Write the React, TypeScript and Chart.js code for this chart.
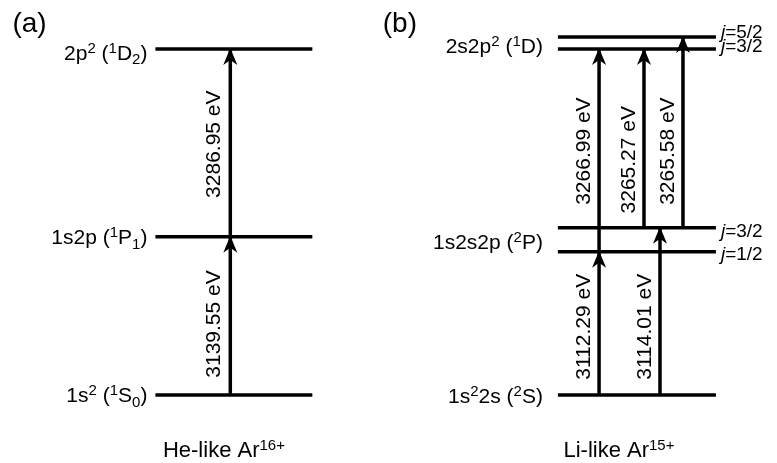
import React, { useEffect, useRef } from 'react';
import { Chart, registerables } from 'chart.js';

Chart.register(...registerables);

type Seg = [string, '' | 'sup' | 'sub' | 'i'];

// Schematic level heights: ground state = 0, doubly excited 2l2l' level = 100
const heLevels = [0, 45.7, 100];
const heLevelLabels: Seg[][] = [
  [['1s', ''], ['2', 'sup'], [' (', ''], ['1', 'sup'], ['S', ''], ['0', 'sub'], [')', '']],
  [['1s2p (', ''], ['1', 'sup'], ['P', ''], ['1', 'sub'], [')', '']],
  [['2p', ''], ['2', 'sup'], [' (', ''], ['1', 'sup'], ['D', ''], ['2', 'sub'], [')', '']],
];

const liLevels = [0, 41.4, 48.3, 100, 103.5];
const liJLabels = ['', '1/2', '3/2', '3/2', '5/2'];
// Term labels sit between the fine-structure pairs they describe
const liTermLevels = [0, 44.6, 101.3];
const liTermLabels: Seg[][] = [
  [['1s', ''], ['2', 'sup'], ['2s (', ''], ['2', 'sup'], ['S)', '']],
  [['1s2s2p (', ''], ['2', 'sup'], ['P)', '']],
  [['2s2p', ''], ['2', 'sup'], [' (', ''], ['1', 'sup'], ['D)', '']],
];

// Horizontal extent of each ladder and the column of each transition
const heSpan = [1.0, 2.01];
const liSpan = [3.59, 4.607];

const heArrowCol = [1.482, 1.482];
const heArrowFrom = [0, 45.7];
const heArrowTo = [45.7, 100];
const heArrowEnergy = ['3139.55', '3286.95'];
const heArrowLabelAt = [20.5, 72.5];

const liArrowCol = [3.855, 4.247, 3.855, 4.144, 4.395];
const liArrowFrom = [0, 0, 41.4, 48.3, 48.3];
const liArrowTo = [41.4, 48.3, 100, 100, 103.5];
const liArrowEnergy = ['3112.29', '3114.01', '3266.99', '3265.27', '3265.58'];
const liArrowLabelAt = [19.7, 19.7, 70.5, 68, 70.5];

const ionLabels: Seg[][] = [
  [['He-like Ar', ''], ['16+', 'sup']],
  [['Li-like Ar', ''], ['15+', 'sup']],
];
const ionLabelCol = [1.441, 3.983];
const panelLetters = ['(a)', '(b)'];
const panelLetterCol = [0.08, 2.463];

const FONT = '"Liberation Sans", Arial, Helvetica, sans-serif';

function segFont(kind: string, size: number) {
  if (kind === 'sup' || kind === 'sub') return `${Math.round(size * 0.7)}px ${FONT}`;
  if (kind === 'i') return `italic ${size}px ${FONT}`;
  return `${size}px ${FONT}`;
}

function drawRich(
  ctx: CanvasRenderingContext2D,
  segs: Seg[],
  x: number,
  y: number,
  align: 'left' | 'right' | 'center',
  size: number
) {
  ctx.save();
  ctx.textBaseline = 'alphabetic';
  ctx.textAlign = 'left';
  const widths = segs.map(([t, k]) => {
    ctx.font = segFont(k, size);
    return ctx.measureText(t).width;
  });
  const total = widths.reduce((a, b) => a + b, 0);
  let cx = align === 'left' ? x : align === 'right' ? x - total : x - total / 2;
  // y is the vertical middle of the capitals
  const base = y + size * 0.36;
  segs.forEach(([t, k], i) => {
    ctx.font = segFont(k, size);
    let by = base;
    if (k === 'sup') by = base - size * 0.34;
    if (k === 'sub') by = base + size * 0.2;
    ctx.fillText(t, cx, by);
    cx += widths[i];
  });
  ctx.restore();
}

function segmentDataset(x0: number, y0: number, x1: number, y1: number, width: number) {
  return {
    data: [
      { x: x0, y: y0 },
      { x: x1, y: y1 },
    ],
    showLine: true,
    borderColor: '#000',
    borderWidth: width,
    borderCapStyle: 'butt' as const,
    pointRadius: 0,
    fill: false,
  };
}

const diagramPlugin = {
  id: 'levelDiagram',
  afterDatasetsDraw(chart: any) {
    const ctx: CanvasRenderingContext2D = chart.ctx;
    const xs = chart.scales.x;
    const ys = chart.scales.y;
    ctx.save();
    ctx.fillStyle = '#000';

    const head = (x: number, to: number) => {
      const px = xs.getPixelForValue(x);
      const py = ys.getPixelForValue(to) - 1;
      const len = 17;
      const hw = 7;
      ctx.beginPath();
      ctx.moveTo(px, py);
      ctx.lineTo(px + hw, py + len);
      ctx.lineTo(px, py + len - 5);
      ctx.lineTo(px - hw, py + len);
      ctx.closePath();
      ctx.fill();
    };

    const rotated = (text: string, x: number, yVal: number, dx: number) => {
      const px = xs.getPixelForValue(x) + dx;
      const py = ys.getPixelForValue(yVal);
      ctx.save();
      ctx.translate(px, py);
      ctx.rotate(-Math.PI / 2);
      ctx.font = `21px ${FONT}`;
      ctx.textAlign = 'center';
      ctx.textBaseline = 'middle';
      ctx.fillText(text, 0, 0);
      ctx.restore();
    };

    heArrowCol.forEach((c, i) => {
      head(c, heArrowTo[i]);
      rotated(`${heArrowEnergy[i]} eV`, c, heArrowLabelAt[i], -16);
    });
    liArrowCol.forEach((c, i) => {
      head(c, liArrowTo[i]);
      rotated(`${liArrowEnergy[i]} eV`, c, liArrowLabelAt[i], -15);
    });

    const heLeft = xs.getPixelForValue(heSpan[0]);
    heLevels.forEach((v, i) => {
      const off = i === 2 ? 3 : 0;
      drawRich(ctx, heLevelLabels[i], heLeft - 8, ys.getPixelForValue(v) + off, 'right', 21);
    });

    const liLeft = xs.getPixelForValue(liSpan[0]);
    const liRight = xs.getPixelForValue(liSpan[1]);
    liTermLevels.forEach((v, i) => {
      drawRich(ctx, liTermLabels[i], liLeft - 15, ys.getPixelForValue(v) + 1, 'right', 21);
    });
    const jOff = [0, 1, 2, -3.5, -6];
    liLevels.forEach((v, i) => {
      if (!liJLabels[i]) return;
      const py = ys.getPixelForValue(v);
      drawRich(ctx, [['j', 'i'], ['=' + liJLabels[i], '']], liRight + 5, py + jOff[i], 'left', 19);
    });

    const ionY = ys.getPixelForValue(-15.8);
    ionLabels.forEach((segs, i) => {
      drawRich(ctx, segs, xs.getPixelForValue(ionLabelCol[i]), ionY, 'center', 22);
    });

    ctx.font = `28px ${FONT}`;
    ctx.textAlign = 'left';
    ctx.textBaseline = 'middle';
    panelLetters.forEach((t, i) => {
      ctx.fillText(t, xs.getPixelForValue(panelLetterCol[i]), ys.getPixelForValue(107.2));
    });
    ctx.restore();
  },
};

export default function App() {
  const ref = useRef<HTMLCanvasElement | null>(null);

  useEffect(() => {
    document.body.style.margin = '0';
    const canvas = ref.current;
    if (!canvas) return;
    const datasets: any[] = [];
    heLevels.forEach((v) => datasets.push(segmentDataset(heSpan[0], v, heSpan[1], v, 3.5)));
    liLevels.forEach((v) => datasets.push(segmentDataset(liSpan[0], v, liSpan[1], v, 3.5)));
    heArrowCol.forEach((c, i) => datasets.push(segmentDataset(c, heArrowFrom[i], c, heArrowTo[i], 3.5)));
    liArrowCol.forEach((c, i) => datasets.push(segmentDataset(c, liArrowFrom[i], c, liArrowTo[i], 3.5)));

    const chart = new Chart(canvas, {
      type: 'scatter',
      data: { datasets },
      options: {
        animation: false,
        responsive: false,
        devicePixelRatio: 1,
        layout: { padding: 0 },
        plugins: { legend: { display: false }, tooltip: { enabled: false } },
        scales: {
          x: { type: 'linear', display: false, min: 0, max: 5 },
          y: { type: 'linear', display: false, min: -19.7, max: 114.2 },
        },
      },
      plugins: [diagramPlugin],
    });
    return () => chart.destroy();
  }, []);

  return (
    <div style={{ width: 777, height: 463, background: '#fff' }}>
      <canvas ref={ref} width={777} height={463} />
    </div>
  );
}
